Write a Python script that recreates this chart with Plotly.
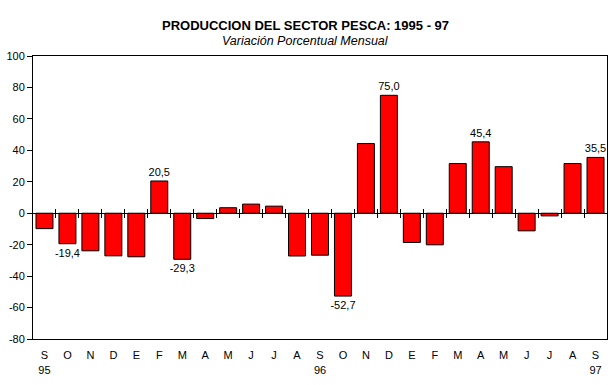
import plotly.graph_objects as go

months = ["S", "O", "N", "D", "E", "F", "M", "A", "M", "J", "J", "A",
          "S", "O", "N", "D", "E", "F", "M", "A", "M", "J", "J", "A", "S"]
years = ["95", "", "", "", "", "", "", "", "", "", "", "",
         "96", "", "", "", "", "", "", "", "", "", "", "", "97"]
values = [-9.8, -19.4, -23.9, -27.1, -27.7, 20.5, -29.3, -3.4, 3.5, 5.8, 4.5, -27.2,
          -26.7, -52.7, 44.3, 75.0, -18.6, -20.1, 31.6, 45.4, 29.6, -11.2, -1.7, 31.6, 35.5]
labels = ["", "-19,4", "", "", "", "20,5", "-29,3", "", "", "", "", "",
          "", "-52,7", "", "75,0", "", "", "", "45,4", "", "", "", "", "35,5"]
y_ticks = [-80, -60, -40, -20, 0, 20, 40, 60, 80, 100]

FONT = "Liberation Sans, Arial, sans-serif"
pos = list(range(len(values)))
ticktext = [m + "<br>" + (y if y else " ") for m, y in zip(months, years)]
bounds = [p + 0.5 for p in pos[:-1]]

fig = go.Figure()
fig.add_trace(go.Bar(
    x=pos, y=values, text=labels, textposition="outside", constraintext="none",
    textfont=dict(family=FONT, size=11, color="black"),
    marker=dict(color="#FF0000", line=dict(color="black", width=1)),
    cliponaxis=False, showlegend=False,
))
for ax in ["x2", "x3"]:
    fig.add_trace(go.Scatter(x=[pos[0]], y=[0], xaxis=ax, mode="markers",
                             marker=dict(opacity=0), showlegend=False, hoverinfo="skip"))

zero_frac = (0 - y_ticks[0]) / (y_ticks[-1] - y_ticks[0])
rng = [-0.5, len(values) - 0.5]

fig.update_layout(
    width=613, height=385,
    margin=dict(l=33, r=6, t=56, b=46, autoexpand=False),
    paper_bgcolor="white", plot_bgcolor="white",
    bargap=0.26,
    font=dict(family=FONT, size=11, color="black"),
    xaxis=dict(range=rng, tickvals=pos, ticktext=ticktext, showgrid=False, automargin=False,
               showline=True, linecolor="black", linewidth=1, mirror=True,
               ticks="", tickfont=dict(size=11), ticklabelstandoff=6, zeroline=False),
    xaxis2=dict(range=rng, overlaying="x", anchor="free", position=zero_frac, side="bottom",
                tickvals=bounds, ticks="outside", ticklen=4, tickcolor="black", automargin=False,
                showticklabels=False, showline=False, showgrid=False, zeroline=False),
    xaxis3=dict(range=rng, overlaying="x", anchor="free", position=zero_frac, side="top",
                tickvals=bounds, ticks="outside", ticklen=4, tickcolor="black", automargin=False,
                showticklabels=False, showline=False, showgrid=False, zeroline=False),
    yaxis=dict(range=[y_ticks[0], y_ticks[-1]], tickvals=y_ticks,
               ticktext=[str(v) for v in y_ticks], showgrid=False, automargin=False,
               showline=True, linecolor="black", linewidth=1, mirror=True,
               ticks="outside", ticklen=5, tickcolor="black", tickfont=dict(size=11),
               zeroline=True, zerolinecolor="black", zerolinewidth=1),
    annotations=[
        dict(text="<b>PRODUCCION DEL SECTOR PESCA: 1995 - 97</b>", xref="paper", yref="paper",
             x=0.474, y=1, yshift=31, xanchor="center", yanchor="middle", showarrow=False,
             font=dict(family=FONT, size=13, color="black")),
        dict(text="<i>Variación Porcentual Mensual</i>", xref="paper", yref="paper",
             x=0.474, y=1, yshift=15, xanchor="center", yanchor="middle", showarrow=False,
             font=dict(family=FONT, size=12.5, color="black")),
    ],
)
fig.write_html("out.html", config={"displayModeBar": False},
               post_script="document.body.style.margin='0';document.body.style.overflow='hidden';")
